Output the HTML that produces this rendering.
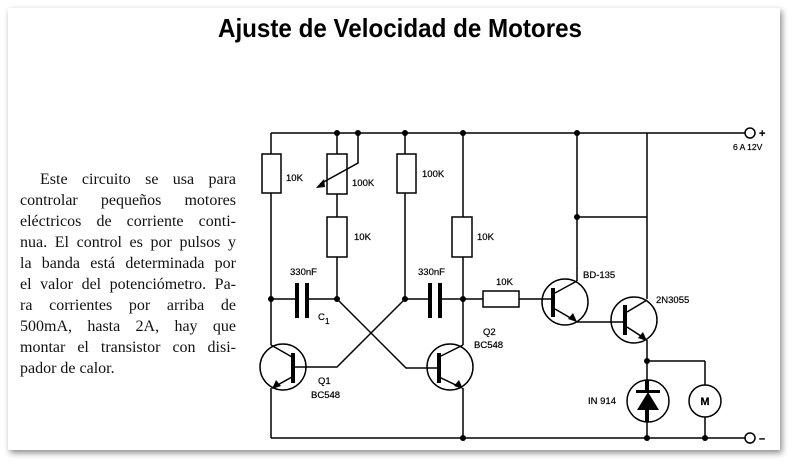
<!DOCTYPE html>
<html><head><meta charset="utf-8"><style>
html,body{margin:0;padding:0;background:#fff;}
.p{position:absolute;left:20px;width:216px;font-family:"Liberation Serif",serif;font-size:16px;line-height:21px;text-align:justify;text-align-last:justify;color:#111;}
</style></head><body>
<div style="position:relative;width:792px;height:462px;overflow:hidden;background:#fff">
<div style="position:absolute;left:8px;top:8px;width:772px;height:442px;background:#fff;box-shadow:2px 3px 6px rgba(0,0,0,0.45)"></div>
<svg width="792" height="462" style="position:absolute;left:0;top:0" font-family="Liberation Sans, sans-serif">
<text x="400" y="37" text-anchor="middle" font-size="26" font-weight="bold" textLength="364" lengthAdjust="spacingAndGlyphs">Ajuste de Velocidad de Motores</text>
<g stroke="#000" stroke-width="1.5" fill="none">
<line x1="271" y1="133" x2="745" y2="133"/>
<line x1="271" y1="438" x2="745" y2="438"/>
<line x1="271" y1="133" x2="271" y2="345"/>
<line x1="271" y1="388" x2="271" y2="438"/>
<rect x="262" y="154" width="19" height="39" fill="#fff"/>
<line x1="337" y1="133" x2="337" y2="299"/>
<rect x="327" y="154" width="20" height="40" fill="#fff"/>
<rect x="327" y="217" width="20" height="40" fill="#fff"/>
<polyline points="358,133 358,163 320,184"/>
<line x1="405" y1="133" x2="405" y2="299"/>
<rect x="397" y="154" width="19" height="39" fill="#fff"/>
<line x1="463" y1="133" x2="463" y2="345"/>
<line x1="463" y1="388" x2="463" y2="438"/>
<rect x="452" y="217" width="20" height="40" fill="#fff"/>
<line x1="271" y1="299" x2="297" y2="299"/>
<line x1="307" y1="299" x2="337" y2="299"/>
<line x1="405" y1="299" x2="430" y2="299"/>
<line x1="440" y1="299" x2="483" y2="299"/>
<rect x="483" y="291" width="36" height="16" fill="#fff"/>
<line x1="519" y1="299" x2="553" y2="299"/>
<polyline points="405,299 337,367 293,367"/>
<polyline points="337,299 406,368 438,368"/>
<circle cx="283" cy="367" r="23"/>
<line x1="271" y1="345" x2="292" y2="357"/>
<line x1="292" y1="377" x2="274" y2="387"/>
<circle cx="450" cy="367" r="23"/>
<line x1="463" y1="345" x2="439" y2="357"/>
<line x1="439" y1="377" x2="460" y2="387"/>
<line x1="577" y1="133" x2="577" y2="281"/>
<line x1="577" y1="217" x2="647" y2="217"/>
<circle cx="565" cy="302" r="23"/>
<line x1="577" y1="281" x2="555" y2="293"/>
<line x1="555" y1="309" x2="574" y2="320"/>
<line x1="577" y1="322" x2="625" y2="322"/>
<line x1="647" y1="133" x2="647" y2="299"/>
<circle cx="634" cy="320" r="23"/>
<line x1="647" y1="300" x2="627" y2="312"/>
<line x1="627" y1="327" x2="644" y2="338"/>
<line x1="647" y1="340" x2="647" y2="380"/>
<line x1="647" y1="361" x2="705" y2="361"/>
<line x1="705" y1="361" x2="705" y2="385"/>
<line x1="705" y1="417" x2="705" y2="438"/>
<line x1="647" y1="422" x2="647" y2="438"/>
<circle cx="648" cy="401" r="21"/>
<circle cx="705" cy="401" r="16"/>
<circle cx="750" cy="133" r="5" fill="#fff"/>
<circle cx="750" cy="438" r="5" fill="#fff"/>
</g>
<g fill="#000">
<rect x="295" y="283" width="4" height="35"/><rect x="305" y="283" width="4" height="35"/>
<rect x="428" y="283" width="4" height="35"/><rect x="438" y="283" width="4" height="35"/>
<rect x="291" y="353" width="4" height="30"/>
<rect x="437" y="353" width="4" height="30"/>
<rect x="551" y="288" width="4" height="29"/>
<rect x="623" y="305" width="4" height="30"/>
<polygon points="316,188 324,179 325,187"/>
<polygon points="272,389 276,380 281,386"/>
<polygon points="463,389 454,386 459,380"/>
<polygon points="577,322 568,319 573,313"/>
<polygon points="647,341 638,338 643,332"/>
<polygon points="648,392 637,410 659,410"/>
<rect x="636" y="390" width="24" height="3"/>
<rect x="645" y="380" width="4" height="10"/><rect x="645" y="410" width="4" height="12"/>
<circle cx="337" cy="133" r="3"/><circle cx="358" cy="133" r="3"/><circle cx="405" cy="133" r="3"/><circle cx="463" cy="133" r="3"/><circle cx="577" cy="133" r="3"/>
<circle cx="271" cy="299" r="3"/><circle cx="337" cy="299" r="3"/><circle cx="405" cy="299" r="3"/><circle cx="463" cy="299" r="3"/>
<circle cx="577" cy="217" r="3"/><circle cx="647" cy="361" r="3"/>
<circle cx="463" cy="438" r="3"/><circle cx="647" cy="438" r="3"/><circle cx="705" cy="438" r="3"/>
</g>
<g font-size="9.5" fill="#000" stroke="#000" stroke-width="0.2">
<text x="286" y="181">10K</text>
<text x="352" y="186">100K</text>
<text x="354" y="240">10K</text>
<text x="422" y="177">100K</text>
<text x="477" y="240">10K</text>
<text x="290" y="275">330nF</text>
<text x="418" y="275">330nF</text>
<text x="318" y="320">C</text><text x="325" y="324" font-size="8">1</text>
<text x="496" y="285">10K</text>
<text x="483" y="335">Q2</text>
<text x="474" y="348">BC548</text>
<text x="318" y="384">Q1</text>
<text x="311" y="398">BC548</text>
<text x="583" y="278">BD-135</text>
<text x="656" y="303">2N3055</text>
<text x="588" y="404">IN 914</text>
<text x="733" y="150" font-size="8.5">6 A 12V</text>
<text x="705" y="405" text-anchor="middle" font-size="11" font-weight="bold">M</text>
<text x="759" y="137" font-size="11" font-weight="bold">+</text>
<text x="759" y="442" font-size="11" font-weight="bold">–</text>
</g>
</svg>
<div class="p" style="top:169px;text-indent:20px">Este circuito se usa para</div>
<div class="p" style="top:190px">controlar pequeños motores</div>
<div class="p" style="top:211px">eléctricos de corriente conti-</div>
<div class="p" style="top:232px">nua. El control es por pulsos y</div>
<div class="p" style="top:253px">la banda está determinada por</div>
<div class="p" style="top:274px">el valor del potenciómetro. Pa-</div>
<div class="p" style="top:295px">ra corrientes por arriba de</div>
<div class="p" style="top:316px">500mA, hasta 2A, hay que</div>
<div class="p" style="top:337px">montar el transistor con disi-</div>
<div class="p" style="top:358px;text-align-last:left">pador de calor.</div>
</div>
</body></html>
